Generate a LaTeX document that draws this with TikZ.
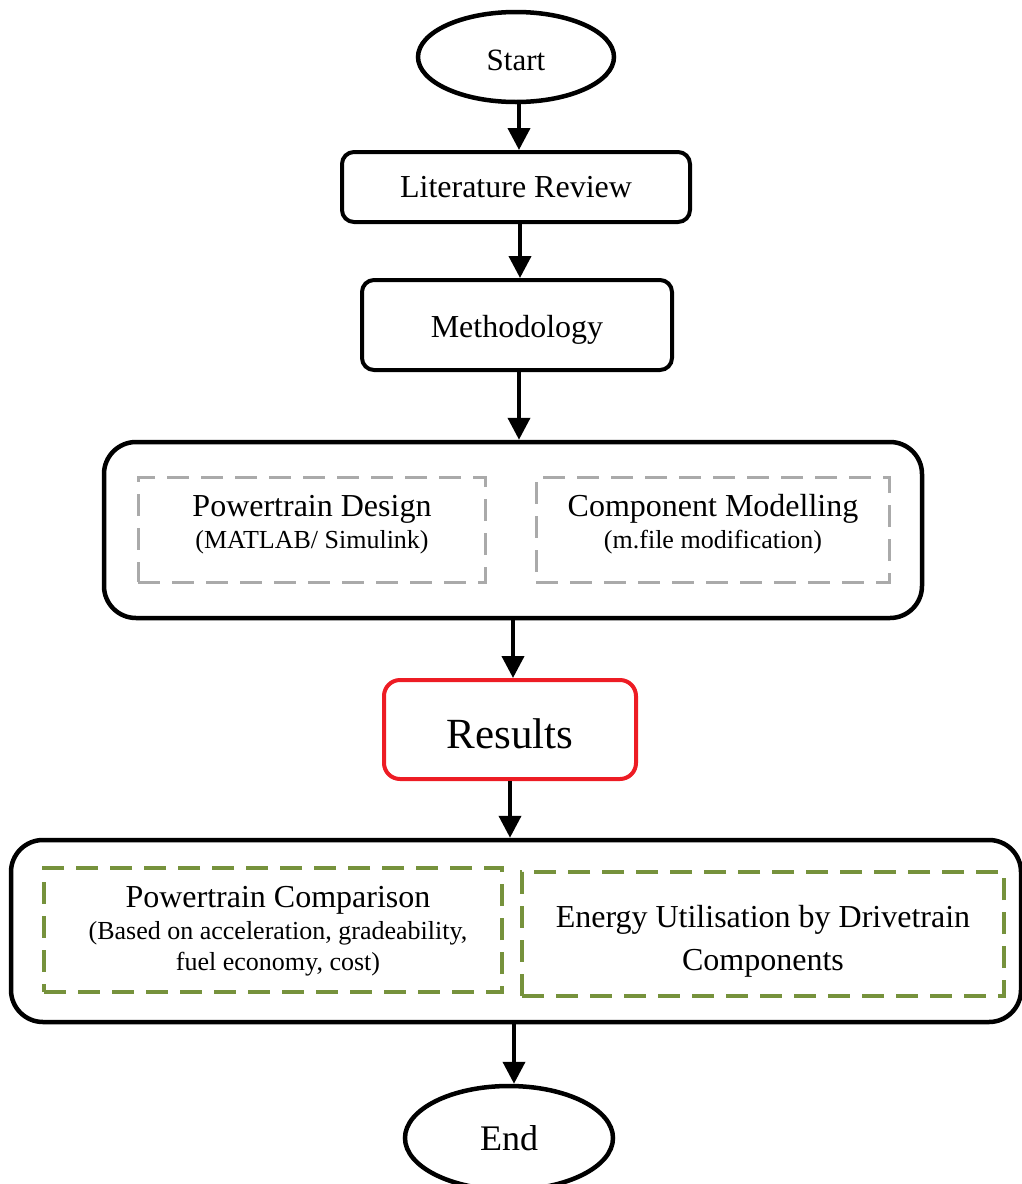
\documentclass[tikz,border=0pt]{standalone}
\usepackage{fontspec}
\setmainfont{Liberation Serif}
\usetikzlibrary{arrows.meta,shapes.geometric}
\definecolor{boxgreen}{RGB}{118,146,60}
\definecolor{boxgray}{RGB}{170,170,170}
\definecolor{boxred}{RGB}{237,28,36}
\tikzset{
  blk/.style={draw=black, line width=4pt, rounded corners=12pt, inner sep=0pt, align=center},
  bigblk/.style={draw=black, line width=4.5pt, rounded corners=32pt, inner sep=0pt},
  oval/.style={draw=black, line width=4.5pt, ellipse, inner sep=0pt},
  graydash/.style={draw=boxgray, line width=3pt, dash pattern=on 22pt off 12pt, inner sep=0pt, align=center},
  greendash/.style={draw=boxgreen, line width=3.5pt, dash pattern=on 22pt off 12pt, inner sep=0pt, align=center},
  arr/.style={line width=4pt, -{Triangle[length=22pt,width=22pt]}},
  ttl/.style={font=\fontsize{32}{36}\selectfont},
  sub/.style={font=\fontsize{26}{31.5}\selectfont}
}
\begin{document}
\begin{tikzpicture}[x=1pt,y=-1pt]
\useasboundingbox (0,0) rectangle (1022,1184);
\begin{scope}
\clip (0,0) rectangle (1022,1184);
\node[oval, minimum width=196pt, minimum height=90pt, text height=27pt, text depth=0pt, font=\fontsize{31}{36}\selectfont] (start) at (516,57) {Start};
\node[blk, minimum width=348pt, minimum height=70pt, font=\fontsize{32}{36}\selectfont] (lit) at (516,187) {Literature Review};
\node[blk, minimum width=310pt, minimum height=90pt, text height=32pt, text depth=7pt, font=\fontsize{32}{36}\selectfont] (meth) at (517,325) {Methodology};
\node[bigblk, minimum width=818pt, minimum height=176pt] (box1) at (513,530) {};
\node[graydash, minimum width=347pt, minimum height=105pt] (pd) at (311.5,529.5) {};
\node[ttl] (pdt) at (312,509) {Powertrain Design};
\node[sub] (pds) at (312,542) {(MATLAB/ Simulink)};
\node[graydash, minimum width=353pt, minimum height=105pt] (cm) at (712.5,529.5) {};
\node[ttl] (cmt) at (713,509) {Component Modelling};
\node[sub] (cms) at (713,542) {(m.file modification)};
\node[blk, draw=boxred, minimum width=252pt, minimum height=99pt, rounded corners=16pt, text height=37pt, text depth=0pt, font=\fontsize{43}{48}\selectfont] (res) at (510,729.5) {Results};
\node[bigblk, minimum width=1010pt, minimum height=182pt] (box2) at (516,931) {};
\node[greendash, minimum width=458pt, minimum height=124pt] (pc) at (273,930) {};
\node[ttl] (pct) at (278,900) {Powertrain Comparison};
\node[sub, align=center] (pcs) at (278,949) {(Based on acceleration, gradeability,\\fuel economy, cost)};
\node[greendash, minimum width=482pt, minimum height=124pt] (eu) at (763,934) {};
\node[align=center, font=\fontsize{32}{43}\selectfont] (eut) at (763,941) {Energy Utilisation by Drivetrain\\Components};
\node[oval, minimum width=208pt, minimum height=104pt, font=\fontsize{36}{40}\selectfont] (endn) at (509,1138) {End};
\end{scope}
\draw[arr] (start.south) ++(3,0) coordinate (s1) -- (s1 |- lit.north);
\draw[arr] (lit.south) ++(4,0) coordinate (s2) -- (s2 |- meth.north);
\draw[arr] (meth.south) ++(2,0) coordinate (s3) -- (s3 |- box1.north);
\draw[arr] (box1.south) -- (box1.south |- res.north);
\draw[arr] (res.south) -- (res.south |- box2.north);
\draw[arr] (box2.south) ++(-2,0) coordinate (s6) -- (s6 |- endn.north);
\end{tikzpicture}
\end{document}
